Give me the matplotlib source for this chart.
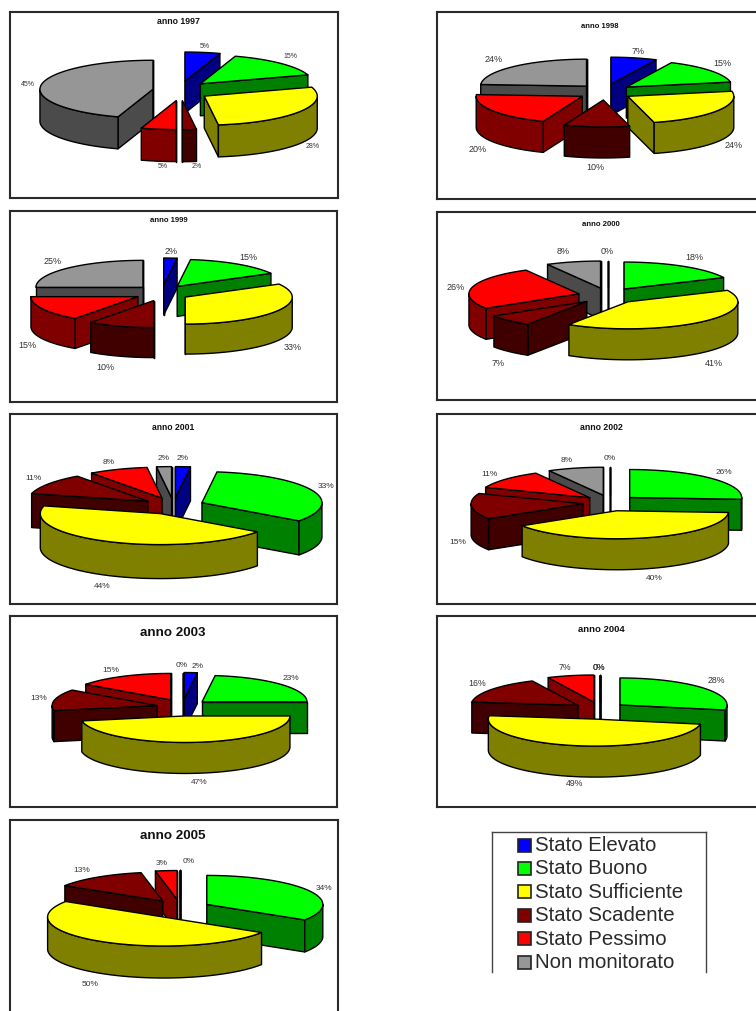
import numpy as np
import matplotlib
matplotlib.use("Agg")
import matplotlib.pyplot as plt
from matplotlib.patches import Polygon, Rectangle

plt.rcParams["font.family"] = ["Liberation Sans", "DejaVu Sans"]

W, H = 756, 1012

# Share of water bodies per quality class, in percent
CATEGORIES = ["Stato Elevato", "Stato Buono", "Stato Sufficiente",
              "Stato Scadente", "Stato Pessimo", "Non monitorato"]
YEARS = [1997, 1998, 1999, 2000, 2001, 2002, 2003, 2004, 2005]
VALUES_1997 = [5, 15, 28, 2, 5, 45]
VALUES_1998 = [7, 15, 24, 10, 20, 24]
VALUES_1999 = [2, 15, 33, 10, 15, 25]
VALUES_2000 = [0, 18, 41, 7, 26, 8]
VALUES_2001 = [2, 33, 44, 11, 8, 2]
VALUES_2002 = [0, 26, 40, 15, 11, 8]
VALUES_2003 = [2, 23, 47, 13, 15, 0]
VALUES_2004 = [0, 28, 49, 16, 7, 0]
VALUES_2005 = [0, 34, 50, 13, 3, 0]
VALUES = dict(zip(YEARS, [VALUES_1997, VALUES_1998, VALUES_1999, VALUES_2000, VALUES_2001,
                          VALUES_2002, VALUES_2003, VALUES_2004, VALUES_2005]))

TOP_COLORS = ["#0000FF", "#00FF00", "#FFFF00", "#800000", "#FF0000", "#969696"]
SIDE_COLORS = ["#000080", "#008000", "#808000", "#400000", "#800000", "#4B4B4B"]

# Panel frames: left, top, right, bottom (pixels)
FRAMES = {
    1997: (10, 13, 338, 199), 1998: (437, 13, 770, 200),
    1999: (10, 212, 337, 403), 2000: (437, 213, 770, 401),
    2001: (10, 415, 337, 605), 2002: (437, 415, 770, 605),
    2003: (10, 617, 337, 808), 2004: (437, 617, 770, 808),
    2005: (10, 821, 338, 1030),
}
# Pie projection: centre x, centre y, radius x, radius y, depth, explode x, explode y
PIES = {
    1997: (180.6, 91.8, 113, 29, 32, 28, 9.9),
    1998: (605, 93, 106, 27, 31, 27, 8),
    1999: (162, 294, 107, 27, 30, 27, 8),
    2000: (608, 296.8, 110, 27, 31, 30, 8),
    2001: (173.5, 507, 120, 31, 34, 31, 8.4),
    2002: (610, 504, 112, 28, 31, 27, 8),
    2003: (182.5, 708.5, 105, 26.5, 31, 26, 8.5),
    2004: (599.5, 711.5, 107, 27, 31, 26.6, 8.7),
    2005: (180, 910, 116, 29, 32, 30.6, 9.5),
}
# Title placement and size
TITLES = {
    1997: (178, 22, 6.3), 1998: (600, 26, 5.5), 1999: (169, 221, 5.6),
    2000: (601, 225, 5.6), 2001: (173, 428, 6.2), 2002: (601, 428, 6.3),
    2003: (173, 633, 9.6), 2004: (601, 630, 6.8), 2005: (173, 836, 9.6),
}
LABEL_SIZE = {1997: 5, 1998: 6.5, 1999: 6.5, 2000: 6.5, 2001: 6, 2002: 6,
              2003: 6, 2004: 6.3, 2005: 6}
# Percentage label anchors, one per class in category order; None leaves a class unlabelled
LABEL_POS = {
    1997: [(205, 47), (290, 57), (313, 146), (197, 166), (163, 166), (28, 85)],
    1998: [(638, 51), (722, 64), (734, 146), (595, 167), (478, 149), (494, 59)],
    1999: [(171, 251), (248, 257), (293, 348), (105, 367), (27, 345), (53, 261)],
    2000: [(607, 251), (694, 257), (714, 363), (498, 363), (456, 287), (563, 252)],
    2001: [(183, 459), (326, 487), (102, 587), (33, 479), (109, 462), (164, 459)],
    2002: [(610, 459), (724, 472), (654, 578), (458, 542), (489, 475), (567, 461)],
    2003: [(198, 667), (291, 679), (199, 782), (39, 699), (111, 671), (182, 666)],
    2004: [(599, 668), (716, 681), (575, 784), (477, 684), (565, 668), (599, 668)],
    2005: [(189, 862), (324, 889), (90, 985), (82, 871), (162, 864), None],
}
LEGEND_BOX = (492, 833, 706, 973)


def add_pixel_axes(left, top, right, bottom):
    """Axes whose data coordinates are figure pixels, y pointing down."""
    ax = fig.add_axes([left / W, 1 - bottom / H, (right - left) / W, (bottom - top) / H])
    ax.set_xlim(left, right)
    ax.set_ylim(bottom, top)
    ax.set_xticks([])
    ax.set_yticks([])
    for spine in ax.spines.values():
        spine.set_linewidth(1.5)
        spine.set_color("#2a2a2a")
    return ax


def draw_slice(ax, a, b, ox, oy, rx, ry, depth, top, side):
    """One exploded wedge between clockwise angles a and b, measured from 12 o'clock."""
    def rim(t):
        return np.column_stack([ox + rx * np.sin(t), oy - ry * np.cos(t)])

    style = dict(edgecolor="black", linewidth=1.0, joinstyle="round")
    down = np.array([0, depth])
    apex = np.array([ox, oy])

    def cut_face(t):
        p = rim(np.array([t]))[0]
        ax.add_patch(Polygon([apex, p, p + down, apex + down], facecolor=side, **style))

    # Cut faces that look towards the viewer
    if np.sin(a) <= 1e-9:
        cut_face(a)
    if np.sin(b) >= -1e-9:
        cut_face(b)

    # Outer wall: only the part of the arc on the near side
    lo, hi = max(a, np.pi / 2), min(b, 3 * np.pi / 2)
    if hi > lo:
        arc = rim(np.linspace(lo, hi, 80))
        ax.add_patch(Polygon(np.vstack([arc, arc[::-1] + down]), facecolor=side, **style))

    # Upper surface
    arc = rim(np.linspace(a, b, 120))
    ax.add_patch(Polygon(np.vstack([apex, arc]), facecolor=top, **style))


def draw_pie(ax, values, pie):
    cx, cy, rx, ry, depth, ex, ey = pie
    edges = np.concatenate([[0], np.cumsum(values)]) / np.sum(values) * 2 * np.pi
    mids = (edges[:-1] + edges[1:]) / 2
    # Far slices first, so that near ones overlap them
    for i in sorted(range(len(values)), key=lambda k: -np.cos(mids[k])):
        ox = cx + ex * np.sin(mids[i])
        oy = cy - ey * np.cos(mids[i])
        draw_slice(ax, edges[i], edges[i + 1], ox, oy, rx, ry, depth,
                   TOP_COLORS[i], SIDE_COLORS[i])


fig = plt.figure(figsize=(W / 100, H / 100), dpi=100, facecolor="white")

for year in YEARS:
    ax = add_pixel_axes(*FRAMES[year])
    draw_pie(ax, VALUES[year], PIES[year])
    tx, ty, ts = TITLES[year]
    ax.text(tx, ty, f"anno {year}", ha="center", va="center", fontsize=ts,
            fontweight="bold", color="#111111")
    for value, pos in zip(VALUES[year], LABEL_POS[year]):
        if pos is not None:
            ax.text(pos[0], pos[1], f"{value}%", ha="center", va="center",
                    fontsize=LABEL_SIZE[year], color="#333333")

# Legend box, open at the bottom
left, top, right, bottom = LEGEND_BOX
lax = add_pixel_axes(left, top, right, bottom)
lax.spines["bottom"].set_visible(False)
for spine in lax.spines.values():
    spine.set_linewidth(1.0)
    spine.set_color("#444444")
for i, (name, color) in enumerate(zip(CATEGORIES, TOP_COLORS)):
    y = top + 13 + i * 23.4
    lax.add_patch(Rectangle((518, y - 6.5), 13, 13, facecolor=color,
                            edgecolor="#222222", linewidth=1.2))
    lax.text(535, y - 0.5, name, ha="left", va="center", fontsize=14.7, color="#2a2a2a")

fig.savefig("out.png", dpi=100)
